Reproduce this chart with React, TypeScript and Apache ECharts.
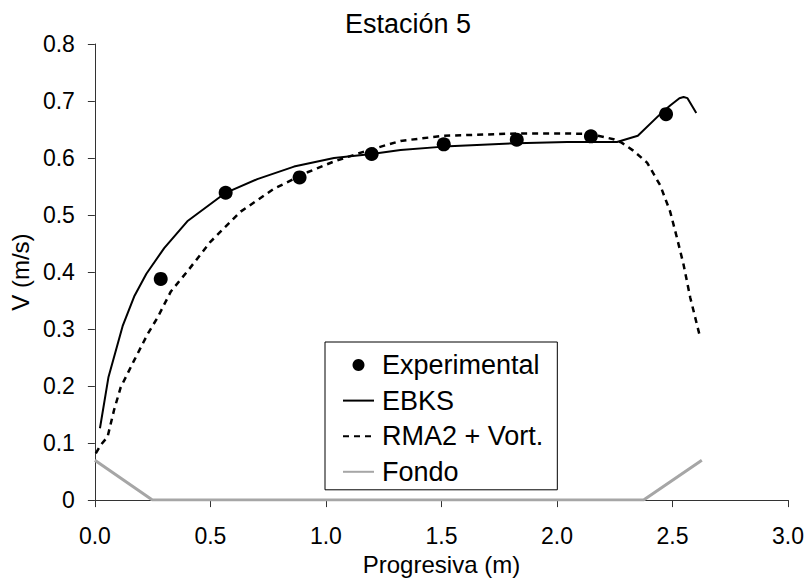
import React, { useEffect, useRef } from "react";
import * as echarts from "echarts";

const TITLE = "Estación 5";
const X_NAME = "Progresiva (m)";
const Y_NAME = "V (m/s)";

const experimental: [number, number][] = [
  [0.285, 0.388], [0.566, 0.539], [0.886, 0.566], [1.198, 0.607],
  [1.51, 0.624], [1.826, 0.632], [2.147, 0.638], [2.472, 0.677],
];

const ebks: [number, number][] = [
  [0.022, 0.126], [0.059, 0.216], [0.12, 0.305], [0.17, 0.357], [0.223, 0.397],
  [0.3, 0.442], [0.4, 0.489], [0.566, 0.539], [0.703, 0.563], [0.862, 0.585],
  [1.035, 0.6], [1.198, 0.607], [1.323, 0.614], [1.51, 0.62], [1.826, 0.626],
  [2.044, 0.628], [2.26, 0.628], [2.35, 0.639], [2.447, 0.677], [2.49, 0.692],
  [2.53, 0.705], [2.548, 0.707], [2.565, 0.705], [2.603, 0.679],
];

const rma2: [number, number][] = [
  [0.004, 0.082], [0.026, 0.097], [0.055, 0.111], [0.083, 0.158], [0.112, 0.198],
  [0.17, 0.245], [0.228, 0.291], [0.271, 0.32], [0.329, 0.366], [0.4, 0.401],
  [0.5, 0.453], [0.631, 0.506], [0.775, 0.546], [0.92, 0.575], [1.035, 0.594],
  [1.179, 0.613], [1.323, 0.63], [1.51, 0.639], [1.826, 0.643], [2.044, 0.643],
  [2.147, 0.642], [2.245, 0.633], [2.28, 0.627], [2.33, 0.613], [2.39, 0.592],
  [2.447, 0.552], [2.49, 0.506], [2.52, 0.459], [2.548, 0.413], [2.577, 0.355],
  [2.62, 0.285],
];

const fondo: [number, number][] = [
  [0, 0.07], [0.249, 0], [2.375, 0], [2.627, 0.07],
];

const LEGEND_NAMES = ["Experimental", "EBKS", "RMA2 + Vort.", "Fondo"];

const X_MIN = 0, X_MAX = 3, X_STEP = 0.5;
const Y_MIN = 0, Y_MAX = 0.8, Y_STEP = 0.1;

const FONT = "'Liberation Sans', Arial, sans-serif";

export default function App() {
  const ref = useRef<HTMLDivElement>(null);
  useEffect(() => {
    if (!ref.current) return;
    const chart = echarts.init(ref.current, undefined, { renderer: "svg" });
    const axisCommon = {
      axisLine: { show: true, lineStyle: { color: "#333", width: 1 } },
      axisTick: { show: true, inside: false, length: 7, lineStyle: { color: "#333", width: 1 } },
      splitLine: { show: false },
    };
    chart.setOption({
      animation: false,
      backgroundColor: "#fff",
      textStyle: { fontFamily: FONT },
      title: {
        text: TITLE,
        left: 345,
        top: 10,
        padding: 0,
        textStyle: { fontFamily: FONT, fontSize: 27, fontWeight: "normal", color: "#000" },
      },
      grid: { left: 94, right: 21, top: 44, bottom: 77, containLabel: false },
      legend: {
        orient: "vertical",
        left: 325,
        top: 342,
        padding: [9, 14, 4, 17],
        itemGap: 7.6,
        itemWidth: 31,
        itemHeight: 12,
        backgroundColor: "#fff",
        borderColor: "#000",
        borderWidth: 1,
        borderRadius: 0,
        data: LEGEND_NAMES.map((n, i) =>
          i === 0 ? { name: n } : { name: n, itemStyle: { opacity: 0 } }
        ),
        textStyle: { fontFamily: FONT, fontSize: 27, lineHeight: 28, color: "#000", padding: [0, 0, 0, 3] },
      },
      xAxis: {
        type: "value",
        min: X_MIN,
        max: X_MAX,
        interval: X_STEP,
        name: X_NAME,
        nameLocation: "middle",
        nameGap: 46,
        nameTextStyle: { fontFamily: FONT, fontSize: 24, color: "#000" },
        axisLabel: {
          margin: 24,
          fontFamily: FONT,
          fontSize: 23,
          color: "#000",
          formatter: (v: number) => v.toFixed(1),
        },
        ...axisCommon,
      },
      yAxis: {
        type: "value",
        min: Y_MIN,
        max: Y_MAX,
        interval: Y_STEP,
        name: Y_NAME,
        nameLocation: "middle",
        nameGap: 58,
        nameTextStyle: { fontFamily: FONT, fontSize: 24, color: "#000" },
        axisLabel: {
          margin: 20,
          fontFamily: FONT,
          fontSize: 23,
          color: "#000",
          formatter: (v: number) => (v === 0 ? "0" : v.toFixed(1)),
        },
        ...axisCommon,
      },
      series: [
        {
          name: "Fondo",
          type: "line",
          data: fondo,
          symbol: "none",
          lineStyle: { color: "#a6a6a6", width: 3 },
          itemStyle: { color: "#a6a6a6" },
          z: 2,
        },
        {
          name: "EBKS",
          type: "line",
          data: ebks,
          symbol: "none",
          lineStyle: { color: "#000", width: 2 },
          itemStyle: { color: "#000" },
          z: 3,
        },
        {
          name: "RMA2 + Vort.",
          type: "line",
          data: rma2,
          symbol: "none",
          lineStyle: { color: "#000", width: 2.5, type: [6, 5] },
          itemStyle: { color: "#000" },
          z: 3,
        },
        {
          name: "Experimental",
          type: "scatter",
          data: experimental,
          symbol: "circle",
          symbolSize: 14,
          itemStyle: { color: "#000", opacity: 1 },
          z: 4,
        },
      ],
    });
    return () => chart.dispose();
  }, []);
  return <div ref={ref} style={{ width: 809, height: 581, position: "absolute", left: 0, top: 0 }} />;
}
